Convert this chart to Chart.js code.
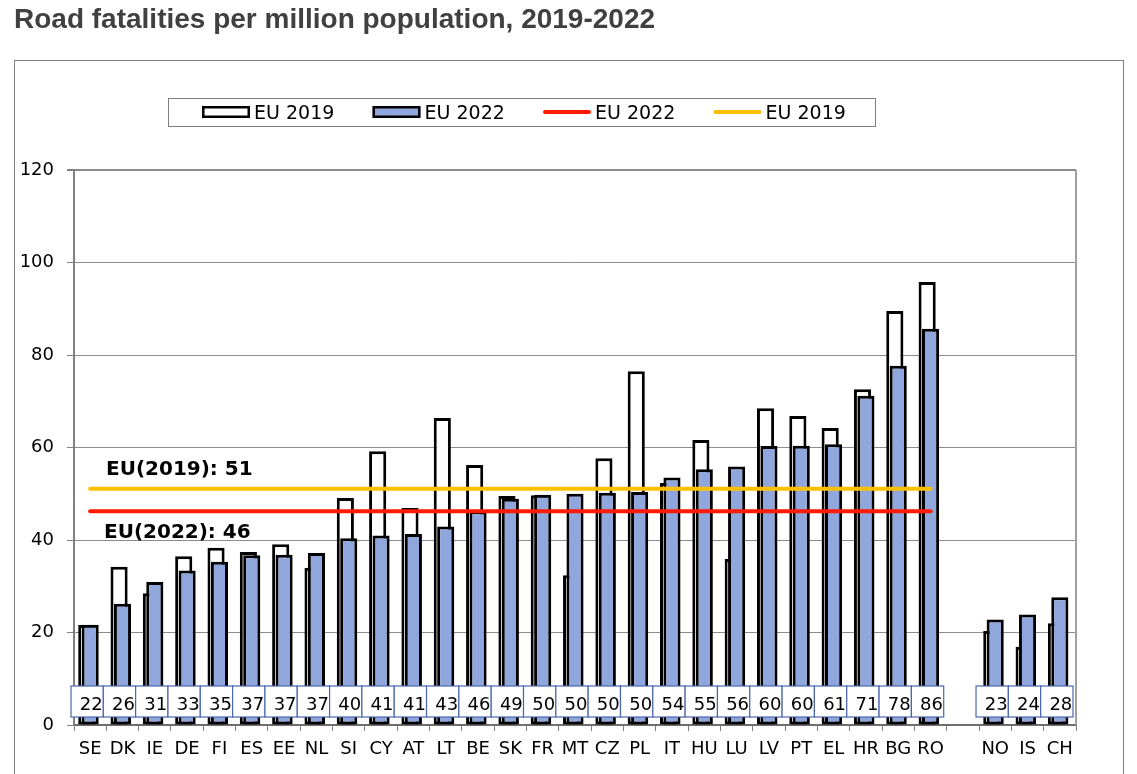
<!DOCTYPE html>
<html>
<head>
<meta charset="utf-8">
<title>Road fatalities per million population, 2019-2022</title>
<script src="https://cdn.jsdelivr.net/npm/chart.js@4.4.1/dist/chart.umd.min.js"></script>
<style>
    html, body { margin: 0; padding: 0; background: #fff; }
    #wrap { position: relative; width: 1137px; height: 774px; }
</style>
</head>
<body>
<div id="wrap"><canvas id="fatalityChart"></canvas></div>
<script>
// Road fatalities per million inhabitants, EU member states + NO/IS/CH.
// '' is the spacer slot between RO and the non-EU countries.
const countries = ['SE', 'DK', 'IE', 'DE', 'FI', 'ES', 'EE', 'NL', 'SI', 'CY', 'AT', 'LT', 'BE', 'SK', 'FR', 'MT',
    'CZ', 'PL', 'IT', 'HU', 'LU', 'LV', 'PT', 'EL', 'HR', 'BG', 'RO', '', 'NO', 'IS', 'CH'];
const rate2019 = [21.6, 34.2, 28.5, 36.5, 38.3, 37.4, 39.1, 34.0, 49.1, 59.2, 46.9, 66.4, 56.2, 49.5, 49.7, 32.4,
    57.7, 76.5, 52.3, 61.6, 35.9, 68.5, 66.8, 64.2, 72.6, 89.5, 95.8, null, 20.3, 16.9, 22.0];
const rate2022 = [21.7, 26.2, 30.9, 33.4, 35.3, 36.7, 36.8, 37.2, 40.4, 41.0, 41.3, 42.9, 46.2, 48.9, 49.8, 50.0,
    50.2, 50.4, 53.5, 55.3, 55.9, 60.3, 60.4, 60.7, 71.2, 77.7, 85.7, null, 22.8, 23.9, 27.6];
const boxLabels = [22, 26, 31, 33, 35, 37, 37, 37, 40, 41, 41, 43, 46, 49, 50, 50,
    50, 50, 54, 55, 56, 60, 60, 61, 71, 78, 86, null, 23, 24, 28];
const euAvg2019 = 51.1;
const euAvg2022 = 46.2;
const euCount = 27; // average lines only run across the member states
const yMax = 120;
const yStep = 20;

const avgLine = (v) => countries.map((c, i) => (i < euCount ? v : null));

const TXT = '#000';
const AXIS_GREY = '#808080';
const FONT = 'DejaVu Sans';

// frame round the whole chart + white page
const framePlugin = {
    id: 'frame',
    beforeDraw(chart) {
        const ctx = chart.ctx;
        ctx.save();
        ctx.fillStyle = '#fff';
        ctx.fillRect(0, 0, chart.width, chart.height);
        ctx.strokeStyle = AXIS_GREY;
        ctx.lineWidth = 1;
        ctx.strokeRect(14.5, 60.5, 1109, 800);
        ctx.restore();
    },
    afterDraw(chart) {
        const { ctx, chartArea } = chart;
        ctx.save();
        ctx.strokeStyle = '#a0a0a0';
        ctx.lineWidth = 2;
        ctx.beginPath();
        ctx.moveTo(chartArea.right, chartArea.top);
        ctx.lineTo(chartArea.right, chartArea.bottom);
        ctx.stroke();
        ctx.restore();
    }
};

// Excel draws the 2019 bar a little to the left of the 2022 one, partly hidden
// behind it. Chart.js won't overlap grouped bars, so the 2019 bars live on a
// hidden copy of the x axis nudged a few px left.
const nudgePlugin = {
    id: 'nudgeX2',
    afterLayout(chart) {
        const s = chart.scales.x2;
        s.left -= 3.4;
        s.right -= 3.4;
        s.configure();
    }
};

// boxed value labels along the bottom + the two EU average captions
const labelsPlugin = {
    id: 'valueBoxes',
    afterDatasetsDraw(chart) {
        const { ctx, chartArea } = chart;
        const xs = chart.scales.x;
        const ys = chart.scales.y;
        const slot = xs.width / countries.length;
        ctx.save();
        boxLabels.forEach((lbl, i) => {
            if (lbl === null) return;
            const cx = xs.getPixelForValue(i);
            ctx.fillStyle = '#fff';
            ctx.strokeStyle = '#4a67ad';
            ctx.lineWidth = 1.2;
            ctx.fillRect(cx - 3 - slot / 2, chartArea.bottom - 39, slot, 31);
            ctx.strokeRect(cx - 3 - slot / 2, chartArea.bottom - 39, slot, 31);
        });
        ctx.fillStyle = TXT;
        ctx.font = `18px "${FONT}"`;
        ctx.textAlign = 'center';
        ctx.textBaseline = 'alphabetic';
        boxLabels.forEach((lbl, i) => {
            if (lbl === null) return;
            ctx.fillText(String(lbl), xs.getPixelForValue(i) + 1, chartArea.bottom - 15);
        });

        ctx.font = `bold 20px "${FONT}"`;
        ctx.textAlign = 'left';
        ctx.fillText(`EU(2019): ${Math.round(euAvg2019)}`, chartArea.left + 32, ys.getPixelForValue(euAvg2019) - 14);
        ctx.fillText(`EU(2022): ${Math.round(euAvg2022)}`, chartArea.left + 30, ys.getPixelForValue(euAvg2022) + 27);
        ctx.restore();
    }
};

// boxed legend above the plot, Excel style
const legendOrder = [3, 2, 0, 1];
const boxLegendPlugin = {
    id: 'boxLegend',
    afterDraw(chart) {
        const ctx = chart.ctx;
        ctx.save();
        ctx.strokeStyle = AXIS_GREY;
        ctx.lineWidth = 1;
        ctx.strokeRect(168.5, 98.5, 707, 28);
        ctx.font = `19px "${FONT}"`;
        ctx.textBaseline = 'alphabetic';
        ctx.textAlign = 'left';
        legendOrder.forEach((dsIndex, n) => {
            const ds = chart.data.datasets[dsIndex];
            const x = 202 + n * 170.5;
            if (ds.type === 'line') {
                ctx.strokeStyle = ds.borderColor;
                ctx.lineWidth = 4;
                ctx.lineCap = 'round';
                ctx.beginPath();
                ctx.moveTo(x + 2, 112);
                ctx.lineTo(x + 46, 112);
                ctx.stroke();
            } else {
                ctx.fillStyle = ds.backgroundColor;
                ctx.fillRect(x, 106, 48, 12);
                ctx.strokeStyle = ds.borderColor;
                ctx.lineWidth = 2.5;
                ctx.strokeRect(x + 1.25, 107.25, 45.5, 9.5);
            }
            ctx.fillStyle = TXT;
            ctx.fillText(ds.label, x + 52, 119);
        });
        ctx.restore();
    }
};

const barLook = {
    grouped: false,
    categoryPercentage: 0.53,
    barPercentage: 1,
    borderWidth: 3,
    borderColor: '#000',
    borderSkipped: false
};

new Chart(document.getElementById('fatalityChart'), {
    type: 'bar',
    data: {
        labels: countries,
        datasets: [
            { type: 'line', label: 'EU 2022', data: avgLine(euAvg2022), borderColor: '#ff1a00', backgroundColor: '#ff1a00',
              borderWidth: 4, borderCapStyle: 'round', pointRadius: 0, fill: false, order: 0, xAxisID: 'x' },
            { type: 'line', label: 'EU 2019', data: avgLine(euAvg2019), borderColor: '#ffc000', backgroundColor: '#ffc000',
              borderWidth: 4, borderCapStyle: 'round', pointRadius: 0, fill: false, order: 0, xAxisID: 'x' },
            { label: 'EU 2022', data: rate2022, backgroundColor: '#8fa7dc', order: 1, xAxisID: 'x', ...barLook },
            { label: 'EU 2019', data: rate2019, backgroundColor: '#fff', order: 2, xAxisID: 'x2', ...barLook }
        ]
    },
    options: {
        responsive: true,
        maintainAspectRatio: false,
        animation: false,
        layout: { padding: { left: 14, right: 61, top: 0, bottom: 0 } },
        plugins: {
            legend: { display: false },
            tooltip: { enabled: false },
            title: {
                display: true,
                text: 'Road fatalities per million population, 2019-2022',
                align: 'start',
                color: '#404040',
                font: { family: 'Liberation Sans', size: 28, weight: 'bold' },
                padding: { top: 3.4, bottom: 133 }
            }
        },
        scales: {
            x: {
                type: 'category',
                offset: true,
                grid: { offset: true, drawOnChartArea: false, drawTicks: true, tickLength: 6, tickColor: AXIS_GREY },
                border: { color: '#6e6e6e', width: 2 },
                ticks: { autoSkip: false, maxRotation: 0, minRotation: 0, padding: 8, color: TXT, font: { family: FONT, size: 18 } },
                afterFit: (s) => { s.height = 49; }
            },
            x2: {
                type: 'category',
                display: false,
                offset: true,
                grid: { offset: true }
            },
            y: {
                min: 0,
                max: yMax,
                ticks: { stepSize: yStep, padding: 13, color: TXT, font: { family: FONT, size: 18 } },
                grid: {
                    color: '#8c8c8c',
                    lineWidth: (c) => (c.tick && c.tick.value === yMax ? 2 : 1),
                    tickLength: 7,
                    tickColor: AXIS_GREY
                },
                border: { color: AXIS_GREY, width: 2 },
                afterFit: (s) => { s.width = 60; }
            }
        }
    },
    plugins: [framePlugin, nudgePlugin, labelsPlugin, boxLegendPlugin]
});
</script>
</body>
</html>
